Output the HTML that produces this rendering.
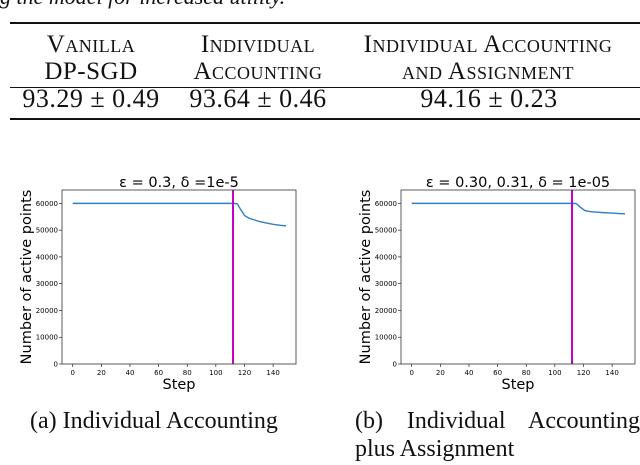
<!DOCTYPE html>
<html><head><meta charset="utf-8"><style>
body{margin:0;width:640px;height:465px;background:#fff;overflow:hidden;position:relative;font-family:"Liberation Serif",serif;color:#111}
.t{position:absolute;white-space:nowrap}
.sc{font-variant:small-caps;font-size:25px;line-height:27px;text-align:center;letter-spacing:0.5px}
.rule{position:absolute;left:10px;width:630px;background:#111}
.v{font-size:26px;letter-spacing:0.5px}
</style></head><body>
<div class="t" style="left:0;top:-16px;font-size:22px;font-style:italic">g the model for increased utility.</div>
<div class="rule" style="top:22px;height:2px"></div>
<div class="t sc" style="left:91px;top:31px;transform:translateX(-50%)">Vanilla<br>DP-SGD</div>
<div class="t sc" style="left:258px;top:31px;transform:translateX(-50%)">Individual<br>Accounting</div>
<div class="t sc" style="left:488px;top:31px;transform:translateX(-50%)">Individual Accounting<br>and Assignment</div>
<div class="rule" style="top:87px;height:1px"></div>
<div class="t v" style="left:91px;top:84px;transform:translateX(-50%)">93.29 ± 0.49</div>
<div class="t v" style="left:258px;top:84px;transform:translateX(-50%)">93.64 ± 0.46</div>
<div class="t v" style="left:489px;top:84px;transform:translateX(-50%)">94.16 ± 0.23</div>
<div class="rule" style="top:118px;height:2px"></div>
<svg id="svg" width="640" height="465" style="position:absolute;left:0;top:0"></svg>
<div class="t" style="left:30px;top:408px;font-size:24px">(a) Individual Accounting</div>
<div class="t" style="left:355px;top:408px;font-size:24px;width:285px;text-align:justify;text-align-last:justify">(b) Individual Accounting</div>
<div class="t" style="left:355px;top:436px;font-size:24px">plus Assignment</div>
<script>
const xTicks=[0,20,40,60,80,100,120,140];
const yTicks=[0,10000,20000,30000,40000,50000,60000];
const stepsA=[0,20,40,60,80,100,113,115,117,120,123,127,130,135,140,145,149];
const valuesA=[60000,60000,60000,60000,60000,60000,60000,59800,58000,55500,54500,53800,53300,52700,52200,51800,51600];
const stepsB=[0,20,40,60,80,100,113,115,118,121,125,130,135,140,145,149];
const valuesB=[60000,60000,60000,60000,60000,60000,60000,59900,58500,57300,56900,56700,56500,56400,56200,56100];
const vlineA=112, vlineB=112;
const NS='http://www.w3.org/2000/svg';
const svg=document.getElementById('svg');
function mk(t,a,p){const e=document.createElementNS(NS,t);for(const k in a)e.setAttribute(k,a[k]);(p||svg).appendChild(e);return e;}
function chart(L,R,x0px,title,steps,vals,vl,name){
 const T=190,B=364,xmin=-7.5,xmax=156,ymax=65000;
 const g=mk('g',{});
 
 
 const X=v=>L+(v-xmin)/(xmax-xmin)*(R-L);
 const Y=v=>B-v/ymax*(B-T);
 const tt=mk('text',{x:(L+R)/2,y:187,'text-anchor':'middle','font-size':14.5,'font-family':'DejaVu Sans, sans-serif'},g);tt.textContent=title;
 
 
 xTicks.forEach(v=>{mk('line',{x1:X(v),x2:X(v),y1:B,y2:B+3,stroke:'#000','stroke-width':0.6},g);
  const t=mk('text',{x:X(v),y:B+11,'text-anchor':'middle','font-size':7,'font-family':'DejaVu Sans, sans-serif'},g);t.textContent=v;
  
  });
 yTicks.forEach(v=>{mk('line',{x1:L-3,x2:L,y1:Y(v),y2:Y(v),stroke:'#000','stroke-width':0.6},g);
  const t=mk('text',{x:L-4,y:Y(v)+2.5,'text-anchor':'end','font-size':7,'font-family':'DejaVu Sans, sans-serif'},g);t.textContent=v;
  
  });
 const p=mk('polyline',{points:steps.map((s,i)=>X(s)+','+Y(vals[i])).join(' '),fill:'none',stroke:'#2f7fc1','stroke-width':1.4},g);
 
 
 const v=mk('line',{x1:X(vl),x2:X(vl),y1:T,y2:B,stroke:'#c000c0','stroke-width':2},g);
 
 
 mk('rect',{x:L,y:T,width:R-L,height:B-T,fill:'none',stroke:'#333','stroke-width':0.8},g);
 const xl=mk('text',{x:(L+R)/2,y:389,'text-anchor':'middle','font-size':14.5,'font-family':'DejaVu Sans, sans-serif'},g);xl.textContent='Step';
 
 
 const yl=mk('text',{x:0,y:0,'text-anchor':'middle','font-size':14.5,'font-family':'DejaVu Sans, sans-serif',transform:`translate(${x0px},${(T+B)/2}) rotate(-90)`},g);yl.textContent='Number of active points';
 
 
}
chart(62,296,31,'ε = 0.3, δ =1e-5',stepsA,valuesA,vlineA,'chart-individual-accounting');
chart(401,635,370,'ε = 0.30, 0.31, δ = 1e-05',stepsB,valuesB,vlineB,'chart-accounting-assignment');
</script>
</body></html>
